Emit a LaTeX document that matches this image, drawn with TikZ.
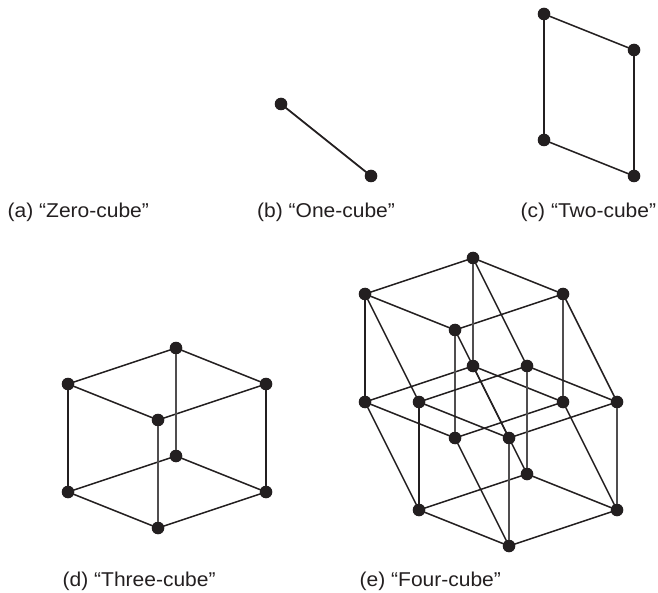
\documentclass[tikz,border=0pt]{standalone}
\usepackage{fontspec}
\setmainfont[FakeStretch=1.05]{Liberation Sans}
\definecolor{ink}{HTML}{231F20}
\definecolor{inkgray}{HTML}{504E4F}
\tikzset{
  vertex/.style={circle,fill=ink,draw=none,minimum size=12.6pt,inner sep=0pt,outer sep=-0.4pt},
  edge/.style={draw=ink,line width=1.55pt},
  heavyedge/.style={draw=ink,line width=1.8pt},
  vedge/.style={draw=inkgray,line width=1.5pt},
  kedge/.style={draw=ink,line width=1.5pt},
  caption/.style={anchor=base west,inner sep=0pt,font=\fontsize{20pt}{24pt}\selectfont,text=ink}
}
\begin{document}
\begin{tikzpicture}[x=1pt,y=-1pt]
\useasboundingbox (0,0) rectangle (658,593);
% captions
\node[caption] (ca) at (7.5,217.5) {(a) “Zero-cube”};
\node[caption] (cb) at (257,217.5) {(b) “One-cube”};
\node[caption] (cc) at (520.5,217.5) {(c) “Two-cube”};
\node[caption] (cd) at (62.5,586) {(d) “Three-cube”};
\node[caption] (ce) at (359.5,586) {(e) “Four-cube”};
% one-cube
\node[vertex] (b1) at (281,104) {};
\node[vertex] (b2) at (371,176) {};
\draw[heavyedge] (b1) -- (b2);
% two-cube
\node[vertex] (c1) at (544,14) {};
\node[vertex] (c2) at (634,50) {};
\node[vertex] (c3) at (544,140) {};
\node[vertex] (c4) at (634,176) {};
\draw[edge] (c1) -- (c2);
\draw[edge] (c3) -- (c4);
\draw[kedge] (c1) -- (c3);
\draw[kedge] (c2) -- (c4);
% three-cube
\node[vertex] (d1) at (176,348) {};
\node[vertex] (d2) at (68,384) {};
\node[vertex] (d3) at (266,384) {};
\node[vertex] (d4) at (158,420) {};
\node[vertex] (d5) at (176,456) {};
\node[vertex] (d6) at (68,492) {};
\node[vertex] (d7) at (266,492) {};
\node[vertex] (d8) at (158,528) {};
\draw[edge] (d1) -- (d2);
\draw[edge] (d1) -- (d3);
\draw[edge] (d2) -- (d4);
\draw[edge] (d3) -- (d4);
\draw[edge] (d5) -- (d6);
\draw[edge] (d5) -- (d7);
\draw[edge] (d6) -- (d8);
\draw[edge] (d7) -- (d8);
\draw[kedge] (d2) -- (d6);
\draw[kedge] (d3) -- (d7);
\draw[vedge] (d1) -- (d5);
\draw[vedge] (d4) -- (d8);
% four-cube: first cube
\node[vertex] (e1) at (473,258) {};
\node[vertex] (e2) at (365,294) {};
\node[vertex] (e3) at (563,294) {};
\node[vertex] (e4) at (455,330) {};
\node[vertex] (e5) at (473,366) {};
\node[vertex] (e6) at (365,402) {};
\node[vertex] (e7) at (563,402) {};
\node[vertex] (e8) at (455,438) {};
% four-cube: second cube
\node[vertex] (f1) at (527,366) {};
\node[vertex] (f2) at (419,402) {};
\node[vertex] (f3) at (617,402) {};
\node[vertex] (f4) at (509,438) {};
\node[vertex] (f5) at (527,474) {};
\node[vertex] (f6) at (419,510) {};
\node[vertex] (f7) at (617,510) {};
\node[vertex] (f8) at (509,546) {};
\foreach \c in {e,f}{
  \draw[edge] (\c1) -- (\c2);
  \draw[edge] (\c1) -- (\c3);
  \draw[edge] (\c2) -- (\c4);
  \draw[edge] (\c3) -- (\c4);
  \draw[edge] (\c5) -- (\c6);
  \draw[edge] (\c5) -- (\c7);
  \draw[edge] (\c6) -- (\c8);
  \draw[edge] (\c7) -- (\c8);
  \draw[kedge] (\c2) -- (\c6);
  \draw[vedge] (\c3) -- (\c7);
  \draw[vedge] (\c1) -- (\c5);
  \draw[vedge] (\c4) -- (\c8);
}
\foreach \i in {1,...,8}{
  \draw[edge] (e\i) -- (f\i);
}
\end{tikzpicture}
\end{document}
